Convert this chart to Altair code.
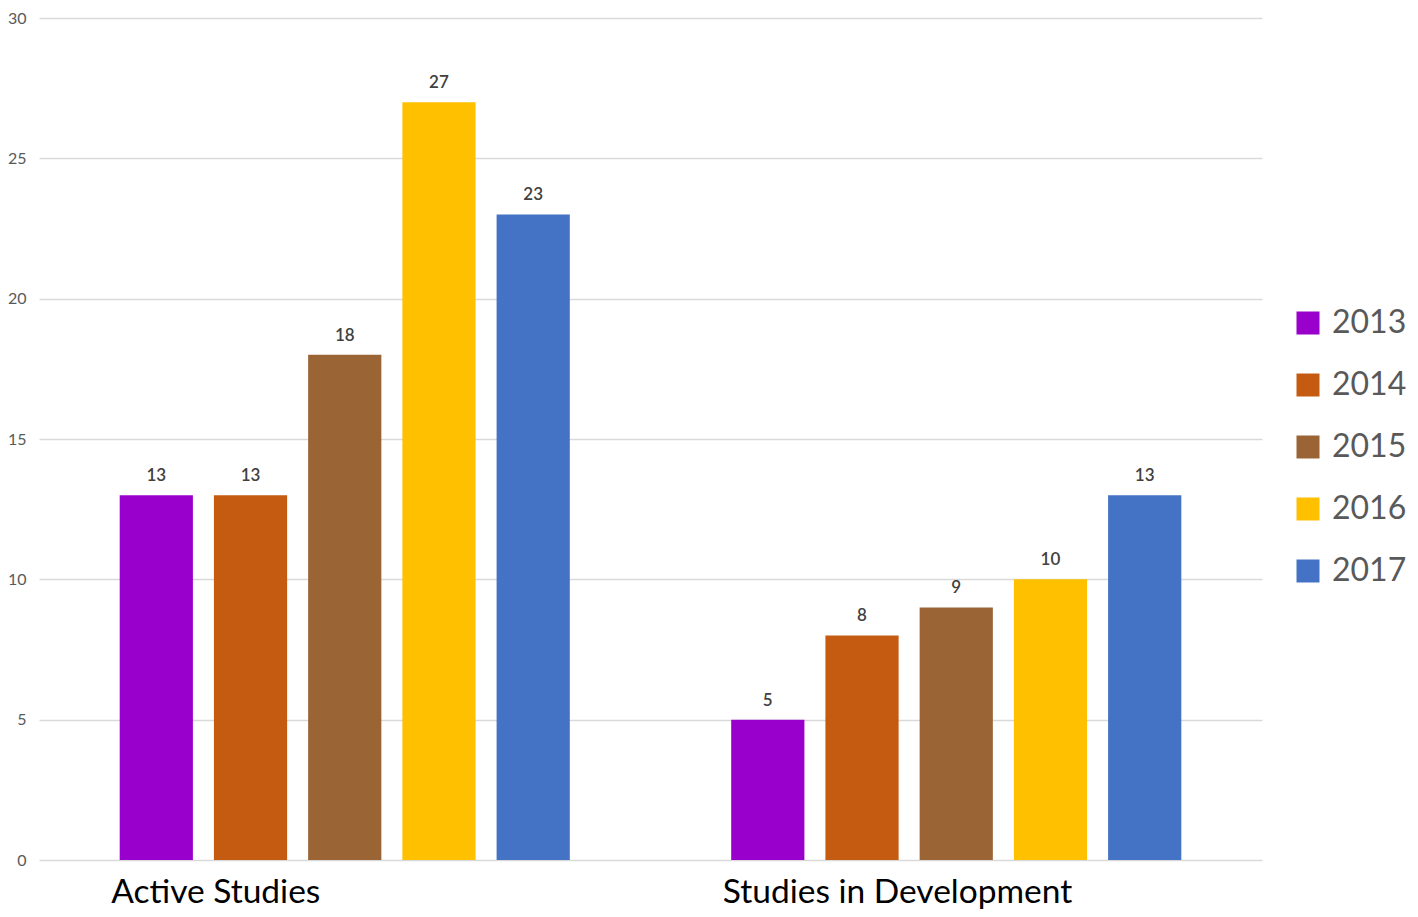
import altair as alt
import pandas as pd

categories = ["Active Studies", "Studies in Development"]
years = ["2013", "2014", "2015", "2016", "2017"]
active = [13, 13, 18, 27, 23]
development = [5, 8, 9, 10, 13]
colors = ["#9900CC", "#C55A11", "#9A6434", "#FFC000", "#4472C4"]

rows = []
for cat, vals in zip(categories, [active, development]):
    for y, v in zip(years, vals):
        rows.append({"category": cat, "year": y, "value": v})
df = pd.DataFrame(rows)
cat_df = pd.DataFrame({"category": categories, "year": [years[0]] * len(categories),
                       "value": [0] * len(categories)})

FONT = "Lato"

x = alt.X("category:N", sort=categories, title=None,
          scale=alt.Scale(paddingInner=0.23, paddingOuter=0.115),
          axis=alt.Axis(labels=False, ticks=False, domain=False))
xo = alt.XOffset("year:N", sort=years,
                 scale=alt.Scale(paddingInner=0.223, paddingOuter=0.11))
y = alt.Y("value:Q", title=None,
          scale=alt.Scale(domain=[0, 30]),
          axis=alt.Axis(values=[0, 5, 10, 15, 20, 25, 30], labelFontSize=16,
                        labelColor="#595959", labelFont=FONT, labelPadding=13,
                        ticks=False, domain=False, gridColor="#D9D9D9",
                        gridWidth=1.5))

bars = alt.Chart(df).mark_bar().encode(
    x=x, xOffset=xo, y=y,
    color=alt.Color("year:N", sort=years,
                    scale=alt.Scale(domain=years, range=colors),
                    legend=alt.Legend(title=None, orient="none", legendX=1253,
                                      legendY=289, symbolType="square",
                                      symbolSize=529, symbolStrokeWidth=0,
                                      labelFontSize=32, labelColor="#595959",
                                      labelFont=FONT, labelOffset=8,
                                      rowPadding=30)),
)

labels = alt.Chart(df).mark_text(baseline="alphabetic", dy=-14, fontSize=17,
                                 color="#404040", font=FONT, fontWeight=600).encode(
    x=x, xOffset=xo, y=y, text="value:Q")

cat_labels = alt.Chart(cat_df).mark_text(align="left", baseline="top", dx=-45,
                                         dy=17, fontSize=33.5, color="#000000",
                                         font=FONT).encode(
    x=x, xOffset=xo, y=y, text="category:N")

chart = alt.layer(bars, labels, cat_labels).properties(
    width=1223, height=842,
    autosize=alt.AutoSizeParams(type="none"),
    padding={"left": 31, "top": 10, "right": 148, "bottom": 49},
).configure_view(stroke=None)

chart.save("out.html", embed_options={"renderer": "svg", "actions": False})
